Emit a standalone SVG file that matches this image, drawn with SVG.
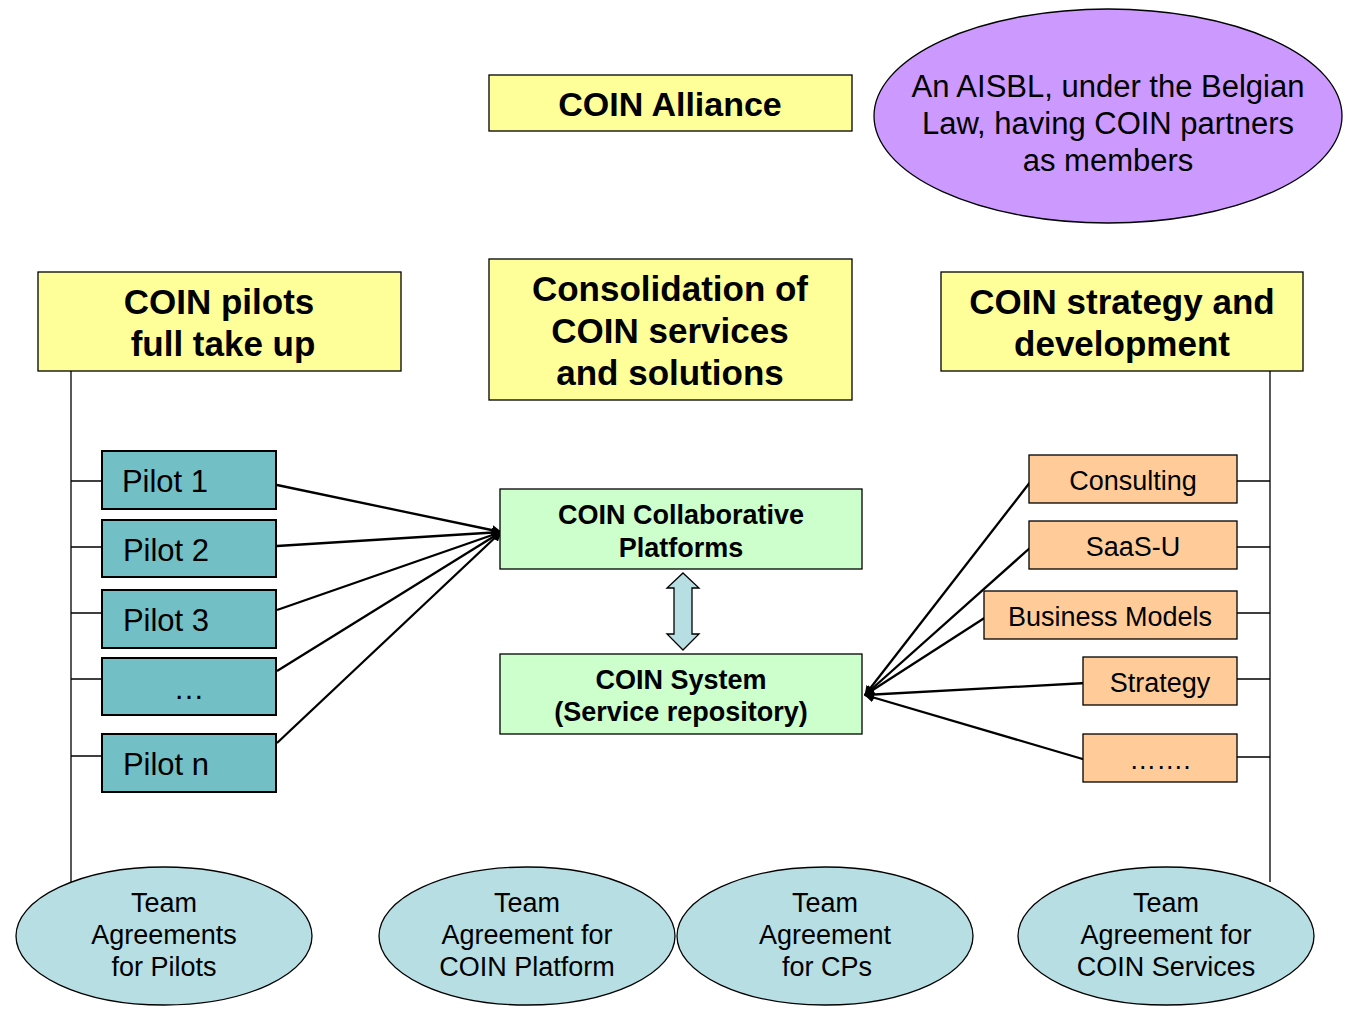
<svg xmlns="http://www.w3.org/2000/svg" width="1345" height="1009" viewBox="0 0 1345 1009">
<style>
.y{fill:#FFFF99;stroke:#000;stroke-width:1.3}
.p{fill:#72BFC5;stroke:#000;stroke-width:2}
.o{fill:#FFCC99;stroke:#000;stroke-width:1.3}
.g{fill:#CCFFCC;stroke:#000;stroke-width:1.3}
.e{fill:#B7DEE3;stroke:#000;stroke-width:1.3}
.t{font-family:"Liberation Sans",Arial,sans-serif;fill:#000;text-anchor:middle}
.b{font-weight:bold}
.l{stroke:#000;stroke-width:1.3;fill:none}
.a{stroke:#000;stroke-width:2.3;fill:none;marker-end:url(#ah)}
</style>
<defs>
<marker id="ah" markerWidth="10" markerHeight="10" refX="9" refY="5" orient="auto" markerUnits="userSpaceOnUse"><path d="M0,0 L10,5 L0,10 z" fill="#000"/></marker>
</defs>
<rect width="1345" height="1009" fill="#fff"/>
<g id="connectors">
<path class="l" d="M71,371 V882 M71,481 H102 M71,547 H102 M71,613 H102 M71,679 H102 M71,756 H102"/>
<path class="l" d="M1270,371 V882 M1237,481 H1270 M1237,547 H1270 M1237,613 H1270 M1237,679 H1270 M1237,757 H1270"/>
<path class="a" d="M277,485 L501,532"/>
<path class="a" d="M277,546 L501,532"/>
<path class="a" d="M277,610 L501,532"/>
<path class="a" d="M277,671 L501,532"/>
<path class="a" d="M277,743 L501,532"/>
<path class="a" d="M1031,481 L865,695"/>
<path class="a" d="M1031,547 L865,695"/>
<path class="a" d="M986,617 L865,695"/>
<path class="a" d="M1086,683 L865,695"/>
<path class="a" d="M1086,760 L865,695"/>
<path d="M683,573 L699,588 L692,588 L692,634 L699,634 L683,650 L667,634 L674,634 L674,588 L667,588 Z" fill="#B7DEE3" stroke="#000" stroke-width="1.3"/>
</g>
<g id="alliance"><rect class="y" x="489" y="75" width="363" height="56"/><text class="t b" x="670" y="116" font-size="34">COIN Alliance</text></g>
<g id="aisbl"><ellipse cx="1108" cy="116" rx="234" ry="107" fill="#CC99FF" stroke="#000" stroke-width="1.3"/>
<text class="t" font-size="31"><tspan x="1108" y="97">An AISBL, under the Belgian</tspan><tspan x="1108" y="134">Law, having COIN partners</tspan><tspan x="1108" y="171">as members</tspan></text></g>
<g id="pilots"><rect class="y" x="38" y="272" width="363" height="99"/><text class="t b" font-size="35"><tspan x="219" y="314">COIN pilots</tspan><tspan x="223" y="356">full take up</tspan></text></g>
<g id="consolidation"><rect class="y" x="489" y="259" width="363" height="141"/><text class="t b" font-size="35"><tspan x="670" y="301">Consolidation of</tspan><tspan x="670" y="343">COIN services</tspan><tspan x="670" y="385">and solutions</tspan></text></g>
<g id="strategydev"><rect class="y" x="941" y="272" width="362" height="99"/><text class="t b" font-size="35"><tspan x="1122" y="314">COIN strategy and</tspan><tspan x="1122" y="356">development</tspan></text></g>
<g id="pilot1"><rect class="p" x="102" y="451" width="174" height="58"/><text class="t" x="165" y="492" font-size="31">Pilot 1</text></g>
<g id="pilot2"><rect class="p" x="102" y="520" width="174" height="57"/><text class="t" x="166" y="561" font-size="31">Pilot 2</text></g>
<g id="pilot3"><rect class="p" x="102" y="590" width="174" height="58"/><text class="t" x="166" y="631" font-size="31">Pilot 3</text></g>
<g id="pilotdots"><rect class="p" x="102" y="658" width="174" height="57"/><text class="t" x="189" y="699" font-size="31">…</text></g>
<g id="pilotn"><rect class="p" x="102" y="734" width="174" height="58"/><text class="t" x="166" y="775" font-size="31">Pilot n</text></g>
<g id="platforms"><rect class="g" x="500" y="489" width="362" height="80"/><text class="t b" font-size="27"><tspan x="681" y="524">COIN Collaborative</tspan><tspan x="681" y="557">Platforms</tspan></text></g>
<g id="system"><rect class="g" x="500" y="654" width="362" height="80"/><text class="t b" font-size="27"><tspan x="681" y="689">COIN System</tspan><tspan x="681" y="721">(Service repository)</tspan></text></g>
<g id="consulting"><rect class="o" x="1029" y="455" width="208" height="48"/><text class="t" x="1133" y="490" font-size="27">Consulting</text></g>
<g id="saas"><rect class="o" x="1029" y="521" width="208" height="48"/><text class="t" x="1133" y="556" font-size="27">SaaS-U</text></g>
<g id="business"><rect class="o" x="984" y="591" width="253" height="48"/><text class="t" x="1110" y="626" font-size="27">Business Models</text></g>
<g id="strategy"><rect class="o" x="1083" y="657" width="154" height="48"/><text class="t" x="1160" y="692" font-size="27">Strategy</text></g>
<g id="odots"><rect class="o" x="1083" y="734" width="154" height="48"/><text class="t" x="1160" y="769" font-size="27">…….</text></g>
<g id="team1"><ellipse class="e" cx="164" cy="936" rx="148" ry="69"/><text class="t" font-size="27"><tspan x="164" y="912">Team</tspan><tspan x="164" y="944">Agreements</tspan><tspan x="164" y="976">for Pilots</tspan></text></g>
<g id="team2"><ellipse class="e" cx="527" cy="936" rx="148" ry="69"/><text class="t" font-size="27"><tspan x="527" y="912">Team</tspan><tspan x="527" y="944">Agreement for</tspan><tspan x="527" y="976">COIN Platform</tspan></text></g>
<g id="team3"><ellipse class="e" cx="825" cy="936" rx="148" ry="69"/><text class="t" font-size="27"><tspan x="825" y="912">Team</tspan><tspan x="825" y="944">Agreement</tspan><tspan x="827" y="976">for CPs</tspan></text></g>
<g id="team4"><ellipse class="e" cx="1166" cy="936" rx="148" ry="69"/><text class="t" font-size="27"><tspan x="1166" y="912">Team</tspan><tspan x="1166" y="944">Agreement for</tspan><tspan x="1166" y="976">COIN Services</tspan></text></g>
</svg>
